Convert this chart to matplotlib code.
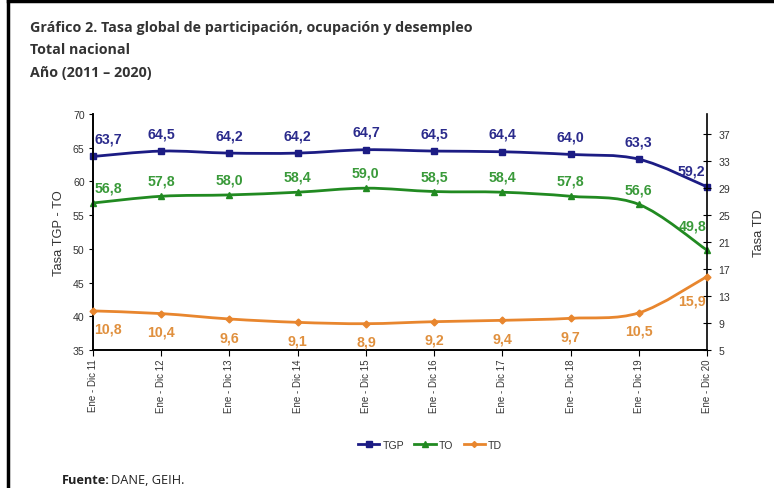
import matplotlib
matplotlib.use("Agg")
import matplotlib.pyplot as plt
from matplotlib.path import Path
from matplotlib.patches import PathPatch
from matplotlib.lines import Line2D
import numpy as np

categories = ["Ene - Dic 11", "Ene - Dic 12", "Ene - Dic 13", "Ene - Dic 14", "Ene - Dic 15",
              "Ene - Dic 16", "Ene - Dic 17", "Ene - Dic 18", "Ene - Dic 19", "Ene - Dic 20"]
tgp = [63.7, 64.5, 64.2, 64.2, 64.7, 64.5, 64.4, 64.0, 63.3, 59.2]
to = [56.8, 57.8, 58.0, 58.4, 59.0, 58.5, 58.4, 57.8, 56.6, 49.8]
td = [10.8, 10.4, 9.6, 9.1, 8.9, 9.2, 9.4, 9.7, 10.5, 15.9]

C_TGP = "#1c1c84"
C_TO = "#218a21"
C_TD = "#e8862e"
LBL_TGP = "#2b2b8c"
LBL_TO = "#3a9a3a"
LBL_TD = "#e0903e"

plt.rcParams['font.family'] = ['Liberation Sans', 'DejaVu Sans']

fig = plt.figure(figsize=(7.74, 4.89), dpi=100)
ax = fig.add_axes([93/774, 1-351/489, (707-93)/774, (351-115)/489])
ax2 = ax.twinx()

x = np.arange(len(categories))


def smooth_path(xs, ys):
    xs = np.asarray(xs, float)
    ys = np.asarray(ys, float)
    n = len(xs)
    verts = [(xs[0], ys[0])]
    codes = [Path.MOVETO]
    for i in range(n - 1):
        i0 = max(i - 1, 0)
        i3 = min(i + 2, n - 1)
        c1 = (xs[i] + (xs[i+1] - xs[i0]) / 6, ys[i] + (ys[i+1] - ys[i0]) / 6)
        c2 = (xs[i+1] - (xs[i3] - xs[i]) / 6, ys[i+1] - (ys[i3] - ys[i]) / 6)
        verts += [c1, c2, (xs[i+1], ys[i+1])]
        codes += [Path.CURVE4] * 3
    return Path(verts, codes)


for a, ys, c, m, ms in [(ax, tgp, C_TGP, 's', 5), (ax, to, C_TO, '^', 5), (ax2, td, C_TD, 'D', 3.5)]:
    a.add_patch(PathPatch(smooth_path(x, ys), facecolor='none', edgecolor=c, lw=2.0,
                          capstyle='round', joinstyle='round', zorder=3))
    a.plot(x, ys, linestyle='none', marker=m, color=c, markersize=ms, zorder=4, clip_on=False)

ax.set_xlim(0, 9)
ax.set_ylim(35, 70)
ax2.set_ylim(5, 40)
ax.set_yticks(np.arange(35, 71, 5))
ax2.set_yticks(np.arange(5, 38, 4))

ax.set_xticks(x)
ax.set_xticklabels(categories, rotation=90, fontsize=7, color="#333333")
ax.tick_params(axis='x', length=4, width=0.8, pad=2)
ax.tick_params(axis='y', labelsize=7.6, colors="#333333", length=3, width=0.8, pad=3)
ax.tick_params(axis='y', color='black')
ax2.tick_params(axis='y', labelsize=7.6, labelcolor="#333333", direction='inout', length=6, width=0.8, pad=5)

for a in (ax, ax2):
    a.spines['top'].set_visible(False)
    for s in ['left', 'right', 'bottom']:
        a.spines[s].set_linewidth(1.2)
ax.spines['right'].set_visible(False)

ax.set_ylabel("Tasa TGP - TO", fontsize=9.3, color="#333333", labelpad=6)
ax2.set_ylabel("Tasa TD", fontsize=9.3, color="#333333", labelpad=17)

fs = 10.2
for i, v in enumerate(tgp):
    dx, dy = 0, 13
    if i == 0:
        dx = 11
    if i == len(tgp) - 1:
        dx, dy = -11, 12
    ax.annotate(f"{v:.1f}".replace('.', ','), (x[i], v), xytext=(dx, dy), textcoords='offset points',
                ha='center', va='center', fontsize=fs, fontweight='bold', color=LBL_TGP, zorder=5)
for i, v in enumerate(to):
    dx, dy = 0, 11
    if i == 0:
        dx = 11
    if i == len(to) - 1:
        dx, dy = -10.5, 18
    ax.annotate(f"{v:.1f}".replace('.', ','), (x[i], v), xytext=(dx, dy), textcoords='offset points',
                ha='center', va='center', fontsize=fs, fontweight='bold', color=LBL_TO, zorder=5)
for i, v in enumerate(td):
    dx, dy = 0, -13
    if i == 0:
        dx = 11
    if i == len(td) - 1:
        dx, dy = -10.5, -17
    ax2.annotate(f"{v:.1f}".replace('.', ','), (x[i], v), xytext=(dx, dy), textcoords='offset points',
                 ha='center', va='center', fontsize=fs, fontweight='bold', color=LBL_TD, zorder=5)

handles = [Line2D([], [], color=C_TGP, lw=2, marker='s', markersize=4),
           Line2D([], [], color=C_TO, lw=2, marker='^', markersize=4),
           Line2D([], [], color=C_TD, lw=2, marker='D', markersize=3)]
fig.legend(handles, ["TGP", "TO", "TD"], loc='center', bbox_to_anchor=(430/774, 1-446/489),
           ncol=3, frameon=False, fontsize=7.6, handlelength=2.0, handletextpad=0.3,
           columnspacing=1.0, labelcolor="#333333")

tfam = ['Open Sans', 'DejaVu Sans']
fig.text(30/774, 1-28/489, "Gráfico 2. Tasa global de participación, ocupación y desempleo",
         fontsize=10.3, fontweight='bold', color="#333333", va='center', family=tfam)
fig.text(30/774, 1-50/489, "Total nacional", fontsize=10.3, fontweight='bold', color="#333333",
         va='center', family=tfam)
fig.text(30/774, 1-73/489, "Año (2011 – 2020)", fontsize=10.3, fontweight='bold', color="#333333",
         va='center', family=tfam)
t1 = fig.text(62/774, 1-481/489, "Fuente:", fontsize=9.2, fontweight='bold', color="#222222",
              va='center', family=tfam)
fig.canvas.draw()
bb = t1.get_window_extent(fig.canvas.get_renderer())
fig.text((bb.x1 + 1) / 774, 1-481/489, "DANE, GEIH.", fontsize=9.2, color="#222222",
         va='center', family=tfam)

fig.add_artist(Line2D([8/774, 1], [1-2/489, 1-2/489], color='black', lw=2.5))
fig.add_artist(Line2D([8/774, 8/774], [0, 1-2/489], color='black', lw=2.5))

fig.savefig("out.png", dpi=100)
